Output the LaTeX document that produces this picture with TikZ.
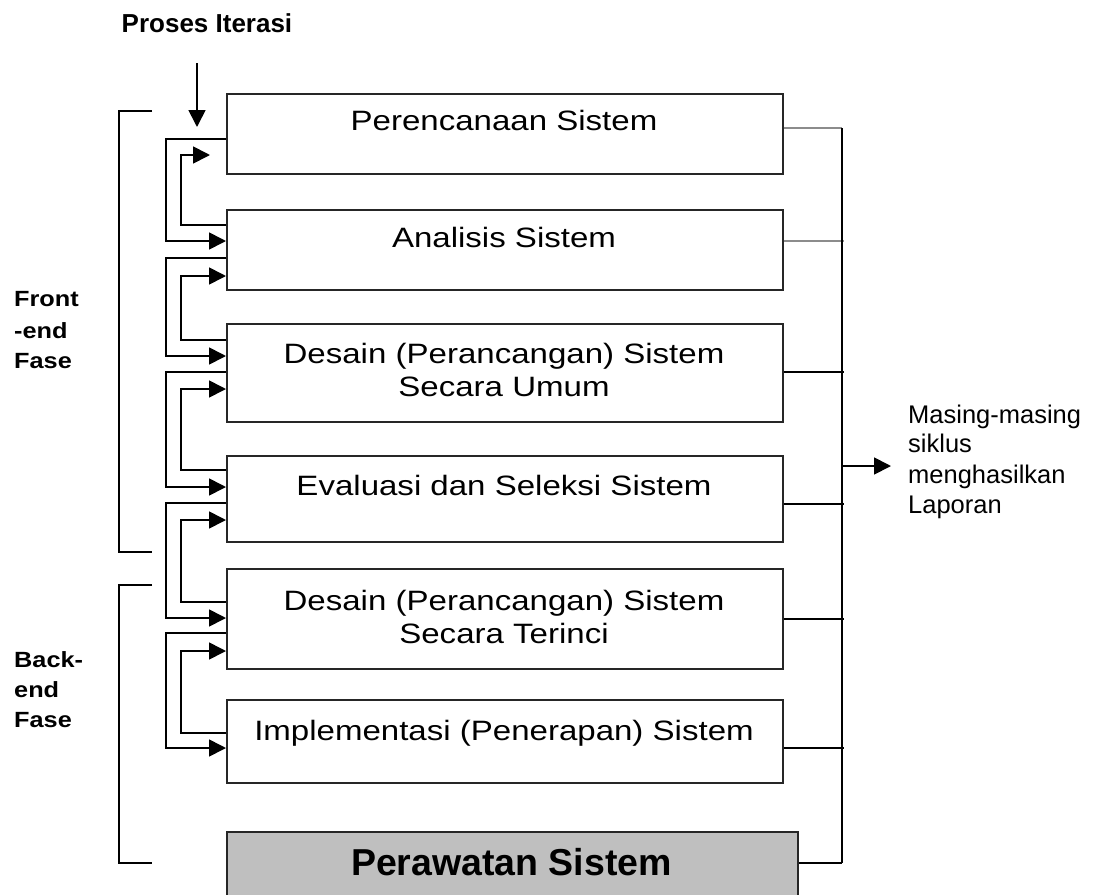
\documentclass[tikz,border=0pt]{standalone}
\usepackage{fontspec}
\setmainfont{Liberation Sans}
\newfontfamily\widefont[FakeStretch=1.18]{Liberation Sans}
\newfontfamily\sidefont[FakeStretch=1.15]{Liberation Sans}
\usetikzlibrary{arrows.meta,calc}
\begin{document}
\begin{tikzpicture}[x=1pt,y=-1pt,
  phase/.style={draw=black!85, line width=1.6pt, minimum width=556pt, inner sep=0pt,
                anchor=north west, fill=white},
  phasetext/.style={font=\widefont\fontsize{28}{33}\selectfont, anchor=base, inner sep=0pt},
  sidetext/.style={font=\sidefont\bfseries\fontsize{22}{30}\selectfont, anchor=base west, inner sep=0pt},
  notetext/.style={font=\fontsize{25.5}{30}\selectfont, anchor=base west, inner sep=0pt},
  link/.style={line width=1.7pt, black},
  faint/.style={line width=1.2pt, black!45},
  tip/.style={-{Triangle[length=17pt,width=17pt]}},
  ]
\clip (0,0) rectangle (1102,894);
\fill[white] (0,0) rectangle (1102,894);

% phase boxes
\node[phase, minimum height=80pt] (b1) at (226,93) {};
\node[phase, minimum height=80pt] (b2) at (226,209) {};
\node[phase, minimum height=98pt] (b3) at (226,323) {};
\node[phase, minimum height=86pt] (b4) at (226,455) {};
\node[phase, minimum height=100pt] (b5) at (226,568) {};
\node[phase, minimum height=83pt] (b6) at (226,699) {};
\node[phase, minimum height=80pt, minimum width=571pt, fill=black!25] (b7) at (226,831) {};

% phase names
\node[phasetext] (t1) at (504,130) {Perencanaan Sistem};
\node[phasetext] (t2) at (504,247) {Analisis Sistem};
\node[phasetext] (t3a) at (504,363) {Desain (Perancangan) Sistem};
\node[phasetext] (t3b) at (504,396) {Secara Umum};
\node[phasetext] (t4) at (504,495) {Evaluasi dan Seleksi Sistem};
\node[phasetext] (t5a) at (504,610) {Desain (Perancangan) Sistem};
\node[phasetext] (t5b) at (504,643) {Secara Terinci};
\node[phasetext] (t6) at (504,740) {Implementasi (Penerapan) Sistem};
\node[font=\bfseries\fontsize{37.5}{40}\selectfont, anchor=base, inner sep=0pt] (t7) at (511.5,875) {Perawatan Sistem};

% iteration label and entry arrow
\node[font=\bfseries\fontsize{26}{30}\selectfont, anchor=base west, inner sep=0pt] (iter) at (121.5,32) {Proses Iterasi};
\coordinate (itstart) at (197,63);
\coordinate (itend) at (197,127);
\draw[link,tip] (itstart) -- (itend);

% forward loops (outer track)
\draw[link,tip] ($(b1.north west)+(0,46)$) -- ++(-60,0) |- ($(b2.north west)+(0,32)$);
\draw[link,tip] ($(b2.north west)+(0,49)$) -- ++(-60,0) |- ($(b3.north west)+(0,33)$);
\draw[link,tip] ($(b3.north west)+(0,49)$) -- ++(-60,0) |- ($(b4.north west)+(0,32)$);
\draw[link,tip] ($(b4.north west)+(0,48)$) -- ++(-60,0) |- ($(b5.north west)+(0,50)$);
\draw[link,tip] ($(b5.north west)+(0,65)$) -- ++(-60,0) |- ($(b6.north west)+(0,49)$);

% backward loops (inner track)
\draw[link,tip] ($(b2.north west)+(0,16)$) -- ++(-45,0) |- ($(b1.north west)+(-16,62)$);
\draw[link,tip] ($(b3.north west)+(0,17)$) -- ++(-45,0) |- ($(b2.north west)+(0,67)$);
\draw[link,tip] ($(b4.north west)+(0,15)$) -- ++(-45,0) |- ($(b3.north west)+(0,66)$);
\draw[link,tip] ($(b5.north west)+(0,34)$) -- ++(-45,0) |- ($(b4.north west)+(0,65)$);
\draw[link,tip] ($(b6.north west)+(0,34)$) -- ++(-45,0) |- ($(b5.north west)+(0,83)$);

% report bus on the right
\coordinate (busT) at (842,128);
\coordinate (busB) at (842,863);
\coordinate (busM) at (842,466);
\coordinate (rep) at (891,466);
\draw[faint] ($(b1.north east)+(0,35)$) -- (busT);
\draw[faint] ($(b2.north east)+(0,32)$) -- ++(60,0);
\draw[link] ($(b3.north east)+(0,49)$) -- ++(60,0);
\draw[link] ($(b4.north east)+(0,49)$) -- ++(60,0);
\draw[link] ($(b5.north east)+(0,51)$) -- ++(60,0);
\draw[link] ($(b6.north east)+(0,49)$) -- ++(60,0);
\draw[link] ($(b7.north east)+(0,32)$) -- (busB);
\draw[link] (busT) -- (busB);
\draw[link,tip] (busM) -- (rep);

\node[notetext] (n1) at (908,423) {Masing-masing};
\node[notetext] (n2) at (908,452) {siklus};
\node[notetext] (n3) at (908,483) {menghasilkan};
\node[notetext] (n4) at (908,513) {Laporan};

% front-end / back-end brackets
\draw[link] (152,111) -- (119,111) -- (119,552) -- (152,552);
\draw[link] (152,585) -- (119,585) -- (119,863) -- (152,863);
\node[sidetext] (f1) at (14,306) {Front};
\node[sidetext] (f2) at (14,338) {-end};
\node[sidetext] (f3) at (14,368) {Fase};
\node[sidetext] (k1) at (14,667) {Back-};
\node[sidetext] (k2) at (14,697) {end};
\node[sidetext] (k3) at (14,727) {Fase};
\end{tikzpicture}
\end{document}
